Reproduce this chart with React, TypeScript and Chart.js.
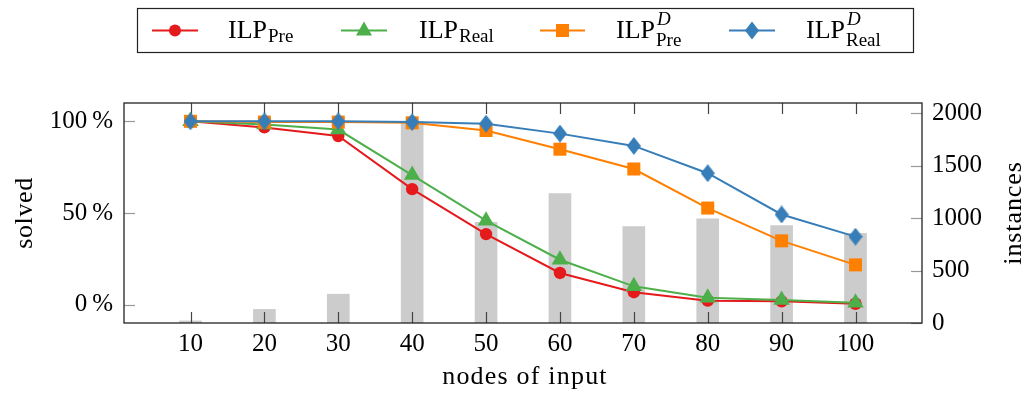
import React, { useEffect, useRef } from 'react';
import { Chart, registerables } from 'chart.js';

Chart.register(...registerables);

const nodes = [10, 20, 30, 40, 50, 60, 70, 80, 90, 100];
const instances = [20, 130, 275, 1925, 960, 1235, 920, 995, 930, 855];
const ilpPre = [100, 96.7, 92, 63, 38.5, 17.3, 6.8, 2.2, 1.8, 0.5];
const ilpReal = [100, 98.3, 95.5, 70.7, 45.8, 24.5, 10, 3.8, 2.6, 1.0];
const ilpDPre = [100, 99.6, 99.6, 99.2, 95, 84.8, 74, 52.7, 34.8, 21.7];
const ilpDReal = [100, 100, 100, 99.6, 98.7, 93.3, 86.6, 71.7, 49.2, 37.1];
const leftTicks = [0, 50, 100];
const rightTicks = [0, 500, 1000, 1500, 2000];

const RED = '#e41a1c';
const GREEN = '#4daf4a';
const ORANGE = '#ff7f00';
const BLUE = '#377eb8';
const BAR = '#cccccc';
const FONT = '"Liberation Serif", "DejaVu Serif", serif';

function makeDiamond(color: string, w: number, h: number) {
  const c = document.createElement('canvas');
  c.width = w;
  c.height = h;
  const ctx = c.getContext('2d')!;
  ctx.fillStyle = color;
  ctx.beginPath();
  ctx.moveTo(w / 2, 0);
  ctx.lineTo(w, h / 2);
  ctx.lineTo(w / 2, h);
  ctx.lineTo(0, h / 2);
  ctx.closePath();
  ctx.fill();
  return c;
}

function drawMarker(ctx: CanvasRenderingContext2D, style: string, color: string, x: number, y: number) {
  ctx.save();
  ctx.fillStyle = color;
  ctx.beginPath();
  if (style === 'circle') {
    ctx.arc(x, y, 6, 0, Math.PI * 2);
  } else if (style === 'triangle') {
    ctx.moveTo(x, y - 9);
    ctx.lineTo(x + 8, y + 5);
    ctx.lineTo(x - 8, y + 5);
    ctx.closePath();
  } else if (style === 'rect') {
    ctx.rect(x - 6.5, y - 6.5, 13, 13);
  } else {
    ctx.moveTo(x, y - 9);
    ctx.lineTo(x + 7, y);
    ctx.lineTo(x, y + 9);
    ctx.lineTo(x - 7, y);
    ctx.closePath();
  }
  ctx.fill();
  ctx.restore();
}

const legendItems = [
  { color: RED, style: 'circle', lx0: 152, lx1: 198, tx: 228, sub: 'Pre', sup: '' },
  { color: GREEN, style: 'triangle', lx0: 341, lx1: 387, tx: 419, sub: 'Real', sup: '' },
  { color: ORANGE, style: 'rect', lx0: 540, lx1: 585, tx: 616, sub: 'Pre', sup: 'D' },
  { color: BLUE, style: 'diamond', lx0: 729, lx1: 775, tx: 806, sub: 'Real', sup: 'D' },
];

const decorPlugin = {
  id: 'decor',
  afterDatasetDraw(chart: any, args: any) {
    if (args.meta.type !== 'bar') return;
    const ctx: CanvasRenderingContext2D = chart.ctx;
    const { left, right, top, bottom } = chart.chartArea;
    const xs = chart.scales.x;
    const yl = chart.scales.y;
    const yr = chart.scales.y2;
    ctx.save();
    ctx.lineWidth = 1.2;
    ctx.strokeStyle = '#444';
    for (const n of nodes) {
      const px = Math.round(xs.getPixelForValue(n)) + 0.5;
      ctx.beginPath();
      ctx.moveTo(px, bottom);
      ctx.lineTo(px, bottom - 11);
      ctx.moveTo(px, top);
      ctx.lineTo(px, top + 11);
      ctx.stroke();
    }
    ctx.strokeStyle = '#999';
    for (const v of leftTicks) {
      const py = Math.round(yl.getPixelForValue(v)) + 0.5;
      ctx.beginPath();
      ctx.moveTo(left, py);
      ctx.lineTo(left + 11, py);
      ctx.stroke();
    }
    for (const v of rightTicks) {
      const py = Math.round(yr.getPixelForValue(v)) + 0.5;
      ctx.beginPath();
      ctx.moveTo(right - 11, py);
      ctx.lineTo(right, py);
      ctx.stroke();
    }
    ctx.restore();
  },
  afterDraw(chart: any) {
    const ctx: CanvasRenderingContext2D = chart.ctx;
    const { left, right, top, bottom } = chart.chartArea;
    ctx.save();
    // frame
    ctx.strokeStyle = '#222';
    ctx.lineWidth = 1.3;
    ctx.strokeRect(left, top, right - left, bottom - top);

    // axis titles
    ctx.fillStyle = '#000';
    ctx.font = `26px ${FONT}`;
    ctx.textAlign = 'center';
    ctx.textBaseline = 'alphabetic';
    (ctx as any).letterSpacing = '1.2px';
    ctx.fillText('nodes of input', (left + right) / 2 + 2, 384);
    (ctx as any).letterSpacing = '0.6px';
    ctx.save();
    ctx.translate(32, (top + bottom) / 2);
    ctx.rotate(-Math.PI / 2);
    ctx.fillText('solved', 0, 0);
    ctx.restore();
    (ctx as any).letterSpacing = '0.9px';
    ctx.save();
    ctx.translate(1021, (top + bottom) / 2);
    ctx.rotate(-Math.PI / 2);
    ctx.fillText('instances', 0, 0);
    ctx.restore();
    (ctx as any).letterSpacing = '0px';

    // legend
    ctx.strokeStyle = '#222';
    ctx.lineWidth = 1.2;
    ctx.strokeRect(137.5, 8.5, 776, 44);
    ctx.textAlign = 'left';
    for (const it of legendItems) {
      ctx.strokeStyle = it.color;
      ctx.lineWidth = 2;
      ctx.beginPath();
      ctx.moveTo(it.lx0, 30.5);
      ctx.lineTo(it.lx1, 30.5);
      ctx.stroke();
      drawMarker(ctx, it.style, it.color, (it.lx0 + it.lx1) / 2, 30.5);
      ctx.fillStyle = '#000';
      ctx.font = `26px ${FONT}`;
      ctx.fillText('ILP', it.tx, 38);
      const w = ctx.measureText('ILP').width;
      ctx.font = `19px ${FONT}`;
      ctx.fillText(it.sub, it.tx + w + 1, it.sup ? 46 : 42);
      if (it.sup) {
        ctx.font = `italic 19px ${FONT}`;
        ctx.fillText(it.sup, it.tx + w + 2, 25);
      }
    }
    ctx.restore();
  },
};

function pts(values: number[]) {
  return nodes.map((n, i) => ({ x: n, y: values[i] }));
}

export default function App() {
  const ref = useRef<HTMLCanvasElement>(null);
  useEffect(() => {
    document.body.style.margin = '0';
    const diamond = makeDiamond(BLUE, 14, 18);
    const lineDs = (label: string, data: number[], color: string, style: any, radius: number, order: number) => ({
      type: 'line' as const,
      label,
      data: pts(data),
      yAxisID: 'y',
      borderColor: color,
      backgroundColor: color,
      pointBackgroundColor: color,
      pointBorderColor: color,
      pointBorderWidth: 0,
      borderWidth: 2,
      pointStyle: style,
      pointRadius: radius,
      tension: 0,
      fill: false,
      clip: false as any,
      order,
    });
    const chart = new Chart(ref.current!, {
      type: 'line',
      data: {
        datasets: [
          {
            type: 'bar' as const,
            label: 'instances',
            data: pts(instances) as any,
            yAxisID: 'y2',
            backgroundColor: BAR,
            borderWidth: 0,
            barThickness: 22,
            order: 10,
          } as any,
          lineDs('ILP Pre', ilpPre, RED, 'circle', 6.2, 4),
          lineDs('ILP Real', ilpReal, GREEN, 'triangle', 9.5, 3),
          lineDs('ILP D Pre', ilpDPre, ORANGE, 'rect', 9.2, 2),
          lineDs('ILP D Real', ilpDReal, BLUE, diamond, 8, 1),
        ],
      },
      options: {
        animation: false,
        responsive: false,
        maintainAspectRatio: false,
        layout: { padding: { top: 103, left: 0, right: 0, bottom: 0 } },
        plugins: { legend: { display: false }, tooltip: { enabled: false } },
        scales: {
          x: {
            type: 'linear',
            min: 1,
            max: 109,
            offset: false,
            afterBuildTicks: (s: any) => {
              s.ticks = nodes.map((v) => ({ value: v }));
            },
            afterFit: (s: any) => {
              s.height = 71;
            },
            grid: { display: false, drawTicks: false },
            border: { display: false },
            ticks: {
              color: '#000',
              font: { family: FONT, size: 25 },
              padding: 6,
              maxRotation: 0,
              autoSkip: false,
              callback: (v: any) => String(v),
            },
          },
          y: {
            type: 'linear',
            position: 'left',
            min: -10,
            max: 110,
            afterBuildTicks: (s: any) => {
              s.ticks = leftTicks.map((v) => ({ value: v }));
            },
            afterFit: (s: any) => {
              s.width = 124;
            },
            grid: { display: false, drawTicks: false },
            border: { display: false },
            ticks: {
              color: '#000',
              font: { family: FONT, size: 25 },
              padding: 11,
              callback: (v: any) => `${v}\u2009%`,
            },
          },
          y2: {
            type: 'linear',
            position: 'right',
            min: 0,
            max: 2100,
            afterBuildTicks: (s: any) => {
              s.ticks = rightTicks.map((v) => ({ value: v }));
            },
            afterFit: (s: any) => {
              s.width = 102;
            },
            grid: { display: false, drawTicks: false },
            border: { display: false },
            ticks: {
              color: '#000',
              font: { family: FONT, size: 25 },
              padding: 10,
              callback: (v: any) => String(v),
            },
          },
        },
      },
      plugins: [decorPlugin],
    });
    return () => chart.destroy();
  }, []);
  return (
    <div style={{ position: 'absolute', left: 0, top: 0, width: 1024, height: 394 }}>
      <canvas ref={ref} width={1024} height={394} style={{ display: 'block' }} />
    </div>
  );
}
